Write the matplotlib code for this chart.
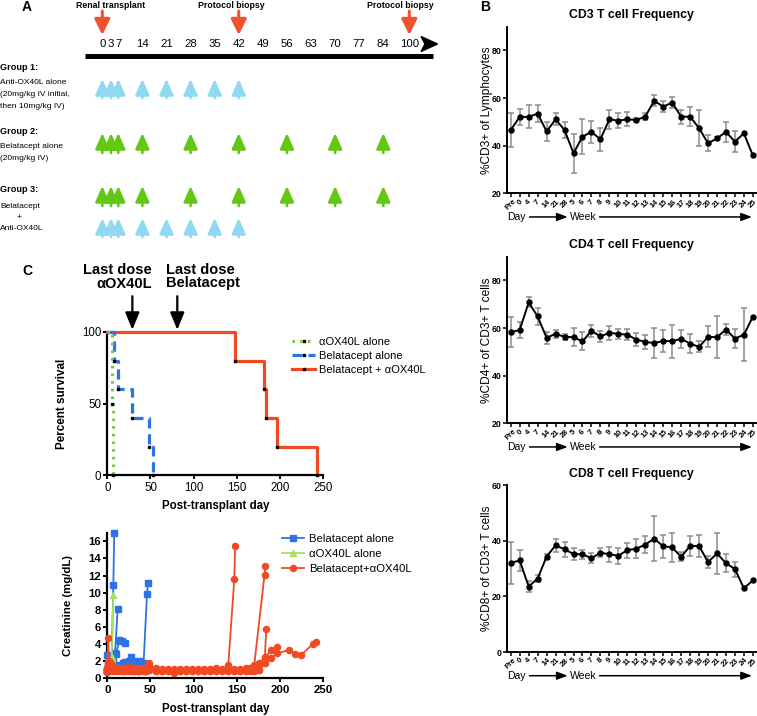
import numpy as np
import matplotlib
matplotlib.use('Agg')
import matplotlib.pyplot as plt
from matplotlib.patches import Polygon
from matplotlib.lines import Line2D

plt.rcParams['font.family'] = ['Liberation Sans', 'DejaVu Sans']

# ---------------- Panel A data ----------------
timeline_days = [0, 3, 7, 14, 21, 28, 35, 42, 49, 56, 63, 70, 77, 84, 100]
ox40l_dose_days = [0, 3, 7, 14, 21, 28, 35, 42]
belatacept_dose_days = [0, 3, 7, 14, 28, 42, 56, 70, 84]
event_days = [0, 42, 100]
event_names = ['Renal transplant', 'Protocol biopsy', 'Protocol biopsy']

# ---------------- Panel B data ----------------
b_ticklabels = ['Pre', '0', '4', '7', '14', '21', '28', '5', '6', '7', '8', '9', '10',
                '11', '12', '13', '14', '15', '16', '17', '18', '19', '20', '21', '22',
                '23', '24', '25']
cd3_mean = [46.6, 52.1, 52.1, 53.5, 46.0, 51.1, 46.6, 36.8, 43.8, 45.8, 42.7, 51.1, 50.5, 51.1,
            50.8, 52.2, 58.9, 56.4, 58.1, 52.2, 52.2, 47.4, 41.0, 43.1, 45.8, 41.7, 45.2, 35.9]
cd3_err = [7.3, 3.3, 4.8, 3.6, 4.1, 2.5, 3.4, 8.3, 7.4, 4.5, 4.8, 4.0, 3.1, 3.0,
           1.0, 1.4, 2.2, 2.2, 2.2, 3.0, 4.0, 7.6, 3.4, 0.6, 4.2, 4.5, 0.0, 0.0]
cd4_mean = [58.3, 59.2, 70.8, 64.9, 55.9, 57.6, 56.3, 56.2, 54.4, 58.9, 56.5, 58.0, 57.6, 57.2,
            55.2, 54.2, 53.7, 54.6, 54.5, 55.5, 53.5, 52.1, 56.3, 56.2, 59.4, 55.6, 57.2, 64.8]
cd4_err = [6.4, 3.5, 2.1, 3.4, 2.4, 1.7, 1.4, 3.7, 3.8, 2.5, 2.2, 3.0, 2.2, 2.3,
           2.6, 3.1, 6.3, 4.6, 7.0, 3.8, 3.9, 2.3, 4.4, 8.9, 2.5, 4.1, 11.2, 0.0]
cd8_mean = [32.0, 32.9, 23.5, 26.4, 34.3, 38.3, 36.9, 35.2, 35.1, 33.7, 35.7, 35.1, 34.6, 36.6,
            37.1, 38.6, 40.7, 38.0, 37.6, 34.2, 38.1, 38.1, 32.3, 35.4, 31.9, 29.8, 22.9, 25.7]
cd8_err = [7.6, 3.9, 2.1, 1.1, 1.0, 2.3, 2.8, 2.0, 1.7, 1.9, 1.5, 2.8, 2.9, 2.7,
           3.4, 2.9, 8.0, 4.1, 5.3, 1.6, 3.6, 4.0, 2.2, 7.2, 3.2, 2.7, 0.0, 0.0]

# ---------------- Panel C survival data ----------------
km_ox40_days = [0, 6, 7]
km_ox40_surv = [100, 50, 0]
km_bel_days = [0, 8, 12, 29, 48, 53]
km_bel_surv = [100, 80, 60, 40, 20, 0]
km_combo_days = [0, 148, 181, 184, 196, 243]
km_combo_surv = [100, 80, 60, 40, 20, 0]
last_dose_ox40_day = 29
last_dose_bel_day = 81

# ---------------- Panel C creatinine data ----------------
bel1_days = [0, 1, 2, 3, 5, 7, 8]
bel1_cr = [1.0, 1.2, 1.4, 1.5, 2.0, 10.9, 17.0]
bel2_days = [0, 1, 2, 3, 5, 7, 9, 12]
bel2_cr = [2.7, 1.5, 1.3, 1.2, 1.4, 2.0, 3.0, 8.1]
bel3_days = [0, 1, 2, 3, 5, 7, 10, 14, 17, 21]
bel3_cr = [0.9, 1.3, 1.2, 1.1, 1.3, 1.5, 2.8, 4.5, 4.4, 4.1]
bel4_days = [0, 1, 2, 3, 5, 7, 10, 14, 18, 21, 25, 28]
bel4_cr = [0.8, 1.0, 1.1, 1.2, 1.0, 1.1, 1.3, 1.5, 1.8, 1.9, 2.0, 2.5]
bel5_days = [0, 1, 2, 3, 5, 7, 10, 14, 21, 28, 32, 35, 38, 42, 46, 47]
bel5_cr = [1.0, 1.1, 1.2, 1.0, 1.1, 1.2, 1.1, 1.0, 1.2, 1.6, 2.0, 0.9, 2.0, 1.8, 9.9, 11.1]

ox1_days = [0, 1, 2, 3, 5, 7]
ox1_cr = [1.0, 1.3, 1.5, 1.8, 2.5, 9.7]
ox2_days = [0, 1, 2, 3, 5, 6]
ox2_cr = [1.1, 1.4, 1.2, 1.6, 2.0, 2.2]

combo_grid_days = [0, 1, 2, 3, 5, 7, 10, 14, 17, 21, 24, 28, 31, 35, 42, 45, 48, 56, 63, 70,
                   77, 84, 91, 98, 105, 112, 119, 126, 133, 140]
combo1_cr = [1.2, 4.7, 1.8, 1.3, 1.1, 1.0, 1.2, 1.1, 0.9, 1.0, 1.3, 1.1, 1.0, 0.9, 1.1, 1.2, 1.8,
             1.0, 0.9, 1.0, 0.8, 1.0, 0.9, 1.1, 1.0, 0.9, 1.0, 1.1, 1.0, 1.5]
combo2_cr = [0.8, 1.9, 1.5, 1.2, 1.0, 1.3, 1.0, 0.9, 1.1, 0.8, 1.0, 0.9, 1.2, 1.0, 0.8, 1.0, 1.5,
             1.1, 0.8, 0.9, 0.6, 0.9, 1.0, 0.8, 0.9, 1.1, 0.9, 0.8, 1.0, 0.9]
combo3_cr = [1.0, 1.5, 2.0, 1.6, 1.4, 1.1, 0.9, 1.2, 1.0, 1.1, 0.9, 1.2, 0.8, 1.1, 1.0, 0.8, 1.2,
             0.9, 1.1, 0.8, 1.0, 0.8, 1.1, 0.9, 1.0, 0.8, 1.1, 1.0, 0.9, 1.0]
combo4_cr = [0.9, 1.2, 1.7, 1.9, 1.2, 0.9, 1.1, 1.0, 1.2, 0.9, 1.1, 1.0, 0.9, 1.2, 0.9, 1.1, 1.0,
             0.8, 1.0, 1.1, 0.9, 1.1, 0.8, 1.0, 1.1, 1.0, 0.8, 0.9, 1.1, 0.8]
combo5_cr = [0.7, 1.0, 1.3, 1.4, 1.6, 1.2, 1.0, 1.1, 0.8, 1.2, 1.0, 0.8, 1.1, 0.9, 1.2, 0.9, 1.0,
             1.2, 0.9, 1.0, 1.1, 0.8, 0.9, 1.0, 0.8, 0.9, 1.0, 1.2, 0.8, 1.1]
combo1_tail_days = [147, 148]
combo1_tail_cr = [11.6, 15.5]
combo2_tail_days = [147, 154, 161, 165, 170, 182, 183]
combo2_tail_cr = [1.0, 0.9, 1.0, 1.1, 1.5, 12.1, 13.1]
combo3_tail_days = [147, 154, 161, 165, 170, 176, 182, 184]
combo3_tail_cr = [0.9, 1.1, 0.8, 1.0, 1.0, 1.0, 1.75, 5.7]
combo4_tail_days = [147, 154, 161, 165, 170, 176, 183, 190, 196]
combo4_tail_cr = [1.1, 0.8, 1.2, 0.9, 0.9, 1.8, 2.5, 3.3, 3.7]
combo5_tail_days = [147, 154, 161, 165, 170, 176, 183, 190, 196, 210, 217, 224, 238, 242]
combo5_tail_cr = [0.8, 1.0, 0.9, 1.2, 0.8, 1.0, 1.8, 2.4, 2.9, 3.3, 2.85, 2.7, 4.0, 4.2]

# ---------------- styles ----------------
CYAN = '#8fd9f3'
GREEN = '#62c814'
RED_A = '#f2522b'
RED = '#f14a22'
BLUE = '#2e73e6'
KM_GREEN = '#7cc443'
CR_GREEN = '#a6e35f'
GRAY = '#8c8c8c'

W, H = 757, 716
fig = plt.figure(figsize=(W / 100, H / 100), dpi=100)


def rect(l, t, r, b):
    return [l / W, 1 - b / H, (r - l) / W, (b - t) / H]


# overlay axes in pixel coordinates for free text
axO = fig.add_axes([0, 0, 1, 1])
axO.set_xlim(0, W)
axO.set_ylim(H, 0)
axO.axis('off')

# ================= Panel A =================
tl_anchor_days = [-20, 0, 3, 7, 84, 100, 130]
tl_anchor_px = [56.6, 102.3, 111.0, 118.3, 383.3, 409.3, 458.0]


def tl_fwd(d):
    return np.interp(d, tl_anchor_days, tl_anchor_px)


def tl_inv(p):
    return np.interp(p, tl_anchor_px, tl_anchor_days)


axT = fig.add_axes(rect(85, 0, 440, 245))
axT.set_xscale('function', functions=(tl_fwd, tl_inv))
axT.set_xlim(tl_inv(85), tl_inv(440))
axT.set_ylim(245, 0)
axT.axis('off')
axT.patch.set_alpha(0)

axT.plot([tl_inv(85), tl_inv(433)], [56, 56], color='k', lw=3.6, solid_capstyle='butt')
for d in timeline_days:
    axT.text(d, 44, str(d), ha='center', va='center', fontsize=8.2)
axO.add_patch(Polygon([(421, 36.5), (437.5, 44), (421, 51.5), (425, 44)], closed=True,
                      color='k'))

for d in event_days:
    axT.annotate('', xy=(d, 35), xytext=(d, 11),
                 arrowprops=dict(arrowstyle='-|>,head_width=0.47,head_length=0.95',
                                 mutation_scale=10, lw=2.2, color=RED_A,
                                 shrinkA=0, shrinkB=0))
for x, name in zip([111, 231, 400], event_names):
    axO.text(x, 5, name, ha='center', va='center', fontsize=6.3, fontweight='bold')


def dose_row(days, top, bottom, color):
    for d in days:
        axT.annotate('', xy=(d, top), xytext=(d, bottom),
                     arrowprops=dict(arrowstyle='-|>,head_width=0.42,head_length=0.95',
                                     mutation_scale=10, lw=1.9, color=color,
                                     shrinkA=0, shrinkB=0))


dose_row(ox40l_dose_days, 79, 98, CYAN)
dose_row(belatacept_dose_days, 133, 153, GREEN)
dose_row(belatacept_dose_days, 186, 206, GREEN)
dose_row(ox40l_dose_days, 218, 237, CYAN)

axO.text(22, 7, 'A', fontsize=10, fontweight='bold', va='center')
gtxt = dict(fontsize=6.0, va='center', ha='left')
axO.text(0, 67, 'Group 1:', fontsize=6.6, fontweight='bold', va='center')
axO.text(0, 83, 'Anti-OX40L alone', **gtxt)
axO.text(0, 95, '(20mg/kg IV initial,', **gtxt)
axO.text(0, 107, 'then 10mg/kg IV)', **gtxt)
axO.text(0, 131, 'Group 2:', fontsize=6.6, fontweight='bold', va='center')
axO.text(0, 146, 'Belatacept alone', **gtxt)
axO.text(0, 158, '(20mg/kg IV)', **gtxt)
axO.text(0, 190, 'Group 3:', fontsize=6.6, fontweight='bold', va='center')
axO.text(0, 206, 'Belatacept', **gtxt)
axO.text(17, 218, '+', **gtxt)
axO.text(0, 229, 'Anti-OX40L', **gtxt)

# ================= Panel B =================
def panel_b(rct, mean, err, ylim, yticks, ylabel, title):
    ax = fig.add_axes(rect(*rct))
    x = np.arange(len(mean))
    m = np.array(mean)
    e = np.array(err)
    has = e > 0
    ax.errorbar(x[has], m[has], yerr=e[has], fmt='none', ecolor=GRAY, elinewidth=1.1,
                capsize=2.2, capthick=1.1, zorder=2)
    ax.plot(x, m, '-o', color='k', lw=1.4, ms=3.6, zorder=3, clip_on=False)
    ax.set_xlim(-0.45, 27.35)
    ax.set_ylim(*ylim)
    ax.set_yticks(yticks)
    ax.set_xticks(x)
    ax.set_xticklabels(b_ticklabels, rotation=45, ha='center', fontsize=5.6,
                       fontweight='bold')
    for lab in ax.get_yticklabels():
        lab.set_fontweight('bold')
    ax.tick_params(axis='x', length=3, width=1.1, pad=0.5)
    ax.tick_params(axis='y', length=3, width=1.1, pad=1, labelsize=6.3)
    for s in ['top', 'right']:
        ax.spines[s].set_visible(False)
    for s in ['left', 'bottom']:
        ax.spines[s].set_linewidth(1.4)
    ax.set_ylabel(ylabel, fontsize=8.6)
    ax.yaxis.set_label_coords(-0.056, 0.5)
    ax.set_title(title, fontsize=8.8, fontweight='bold', pad=6)
    tr = ax.get_xaxis_transform()
    ax.text(-0.45, -0.142, 'Day', transform=tr, fontsize=7.5, va='center', ha='left')
    ax.text(6.55, -0.142, 'Week', transform=tr, fontsize=7.5, va='center', ha='left')
    for a, b in [(2.1, 6.35), (9.9, 26.9)]:
        ax.annotate('', xy=(b, -0.142), xytext=(a, -0.142), xycoords=tr,
                    arrowprops=dict(arrowstyle='-|>,head_width=0.3,head_length=0.8',
                                    mutation_scale=8, lw=1.1, color='k',
                                    shrinkA=0, shrinkB=0), annotation_clip=False)
    return ax


panel_b((506.7, 26.7, 756, 193.3), cd3_mean, cd3_err, (20, 90), [20, 40, 60, 80],
        '%CD3+ of Lymphocytes', 'CD3 T cell Frequency')
panel_b((506.7, 256.7, 756, 423.3), cd4_mean, cd4_err, (20, 90), [20, 40, 60, 80],
        '%CD4+ of CD3+ T cells', 'CD4 T cell Frequency')
panel_b((506.7, 485, 756, 652), cd8_mean, cd8_err, (0, 60), [0, 20, 40, 60],
        '%CD8+ of CD3+ T cells', 'CD8 T cell Frequency')
axO.text(480, 7, 'B', fontsize=10, fontweight='bold', va='center')

# ================= Panel C survival =================
axO.text(22, 271, 'C', fontsize=10, fontweight='bold', va='center')
axS = fig.add_axes(rect(107.3, 332, 323.3, 475.3))
axS.step(km_combo_days, km_combo_surv, where='post', color=RED, lw=2.3, clip_on=False,
         zorder=3)
axS.step(km_bel_days, km_bel_surv, where='post', color=BLUE, lw=2.3, dashes=(3.2, 1.8),
         clip_on=False, zorder=4)
axS.step(km_ox40_days, km_ox40_surv, where='post', color=KM_GREEN, lw=2.3,
         dashes=(0.8, 1.6), clip_on=False, zorder=5)
for dd, ss in [(km_combo_days, km_combo_surv), (km_bel_days, km_bel_surv),
               (km_ox40_days, km_ox40_surv)]:
    axS.plot(dd[1:], ss[1:], 's', color='k', ms=1.8, clip_on=False, zorder=6)
axS.set_xlim(0, 250)
axS.set_ylim(0, 100)
axS.set_xticks([0, 50, 100, 150, 200, 250])
axS.set_yticks([0, 50, 100])
for s in ['top', 'right']:
    axS.spines[s].set_visible(False)
for s in ['left', 'bottom']:
    axS.spines[s].set_linewidth(1.6)
axS.tick_params(length=3, width=1.4, labelsize=8.3, pad=1.5)
axS.set_ylabel('Percent survival', fontsize=8.4, fontweight='bold')
axS.yaxis.set_label_coords(-0.18, 0.5)
axS.set_xlabel('Post-transplant day', fontsize=8.3, fontweight='bold')
axS.xaxis.set_label_coords(0.5, -0.175)
h_s = [Line2D([], [], color=KM_GREEN, lw=2.3, dashes=(0.8, 1.6), marker='s', ms=1.8,
              mfc='k', mec='k'),
       Line2D([], [], color=BLUE, lw=2.3, dashes=(3.2, 1.8), marker='s', ms=1.8,
              mfc='k', mec='k'),
       Line2D([], [], color=RED, lw=2.3, marker='s', ms=1.8, mfc='k', mec='k')]
axS.legend(h_s, ['αOX40L alone', 'Belatacept alone', 'Belatacept + αOX40L'],
           loc='upper left', bbox_to_anchor=(0.855, 0.965), frameon=False, fontsize=8,
           handlelength=2.1, handletextpad=0.3, borderpad=0, borderaxespad=0,
           labelspacing=0.35, numpoints=1)
axS.annotate('', xy=(last_dose_ox40_day, 101.5), xytext=(last_dose_ox40_day, 125),
             annotation_clip=False,
             arrowprops=dict(arrowstyle='-|>,head_width=0.43,head_length=1.05',
                             mutation_scale=10, lw=1.6, color='k', shrinkA=0, shrinkB=0))
axS.annotate('', xy=(last_dose_bel_day, 101.5), xytext=(last_dose_bel_day, 125),
             annotation_clip=False,
             arrowprops=dict(arrowstyle='-|>,head_width=0.43,head_length=1.05',
                             mutation_scale=10, lw=1.6, color='k', shrinkA=0, shrinkB=0))
axO.text(152, 276.5, 'Last dose\nαOX40L', ha='right', va='center', fontsize=10.5,
         fontweight='bold', multialignment='right', linespacing=1.0)
axO.text(166, 276.5, 'Last dose\nBelatacept', ha='left', va='center', fontsize=10.5,
         fontweight='bold', multialignment='left', linespacing=1.0)

# ================= Panel C creatinine =================
axC = fig.add_axes(rect(107.3, 532.7, 323.3, 678.3))
bel_sets = [(bel1_days, bel1_cr), (bel2_days, bel2_cr), (bel3_days, bel3_cr),
            (bel4_days, bel4_cr), (bel5_days, bel5_cr)]
ox_sets = [(ox1_days, ox1_cr), (ox2_days, ox2_cr)]
combo_sets = [(combo_grid_days + combo1_tail_days, combo1_cr + combo1_tail_cr),
              (combo_grid_days + combo2_tail_days, combo2_cr + combo2_tail_cr),
              (combo_grid_days + combo3_tail_days, combo3_cr + combo3_tail_cr),
              (combo_grid_days + combo4_tail_days, combo4_cr + combo4_tail_cr),
              (combo_grid_days + combo5_tail_days, combo5_cr + combo5_tail_cr)]
for d, v in bel_sets:
    axC.plot(d, v, '-s', color=BLUE, lw=1.3, ms=4.2, clip_on=False, zorder=3)
for d, v in ox_sets:
    axC.plot(d, v, '-^', color=CR_GREEN, lw=1.3, ms=4.2, clip_on=False, zorder=4)
for d, v in combo_sets:
    axC.plot(d, v, '-o', color=RED, lw=1.3, ms=4.4, clip_on=False, zorder=5)
axC.set_xlim(0, 250)
axC.set_ylim(0, 17)
axC.set_xticks([0, 50, 100, 150, 200, 250])
axC.set_yticks(list(range(0, 17, 2)))
for s in ['top', 'right']:
    axC.spines[s].set_visible(False)
for s in ['left', 'bottom']:
    axC.spines[s].set_linewidth(1.6)
axC.tick_params(length=3, width=1.4, labelsize=8.2, pad=1.5)
for lab in axC.get_xticklabels() + axC.get_yticklabels():
    lab.set_fontweight('bold')
axC.set_ylabel('Creatinine (mg/dL)', fontsize=8.2, fontweight='bold')
axC.yaxis.set_label_coords(-0.16, 0.5)
axC.set_xlabel('Post-transplant day', fontsize=8.3, fontweight='bold')
axC.xaxis.set_label_coords(0.5, -0.17)
h_c = [Line2D([], [], color=BLUE, lw=1.3, marker='s', ms=4.2),
       Line2D([], [], color=CR_GREEN, lw=1.3, marker='^', ms=4.2),
       Line2D([], [], color=RED, lw=1.3, marker='o', ms=4.4)]
axC.legend(h_c, ['Belatacept alone', 'αOX40L alone', 'Belatacept+αOX40L'],
           loc='upper left', bbox_to_anchor=(0.81, 0.99), frameon=False, fontsize=8.2,
           handlelength=1.9, handletextpad=0.45, borderpad=0, borderaxespad=0,
           labelspacing=0.45, numpoints=1)

fig.savefig('out.png', dpi=100)
